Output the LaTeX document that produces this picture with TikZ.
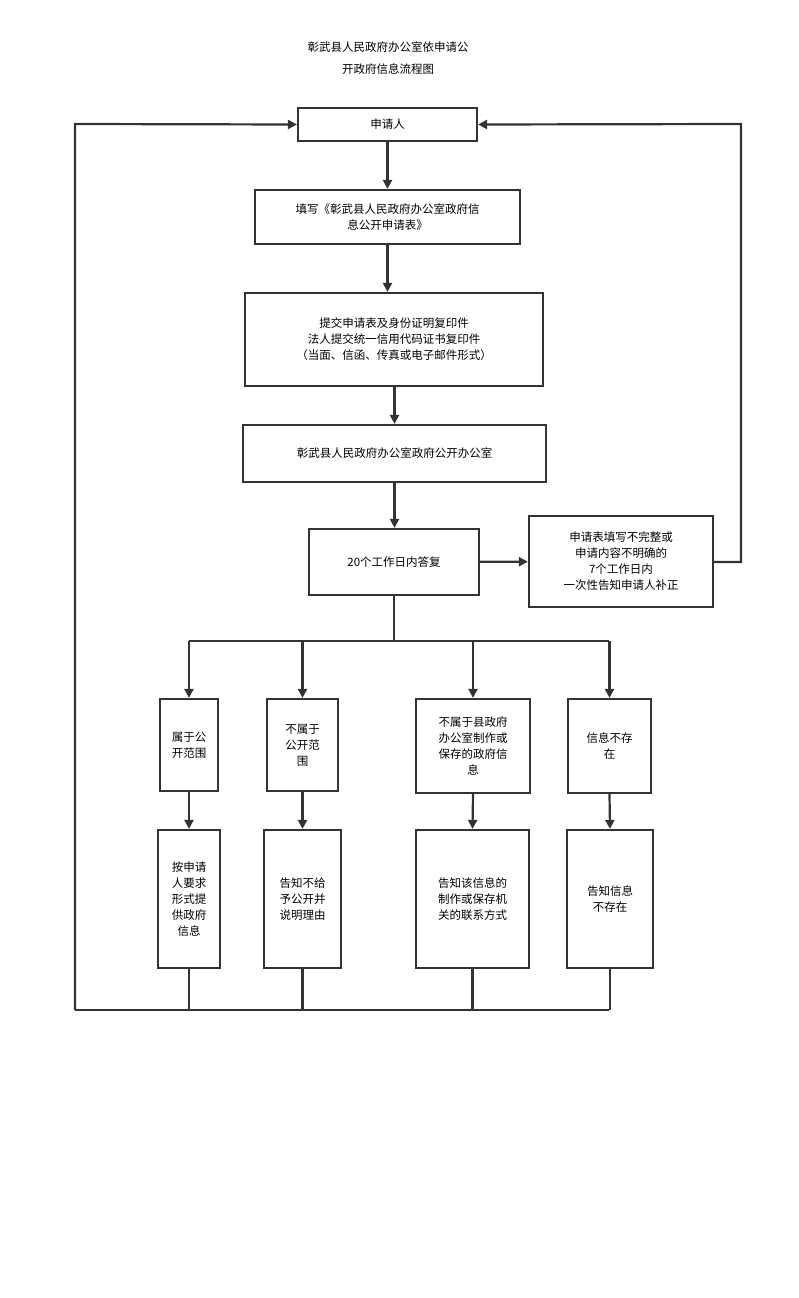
\documentclass[tikz,border=0pt]{standalone}
\usepackage{fontspec}
\setmainfont{Noto Sans CJK SC}
\usetikzlibrary{arrows.meta}
\definecolor{ln}{HTML}{333333}
\begin{document}
\begin{tikzpicture}[x=1pt,y=-1pt,
 bx/.style={draw=ln,line width=2.2pt,fill=white,align=center,inner sep=0pt,font=\fontsize{11.5}{16}\selectfont},
 ar/.style={draw=ln,line width=2.2pt,-{Triangle[length=9pt,width=9pt]}},
 ln/.style={draw=ln,line width=2.2pt}]
\useasboundingbox (0,0) rectangle (798,1298);
\node[align=center,font=\fontsize{11.5}{22}\selectfont] (t) at (388,58) {彰武县人民政府办公室依申请公\\开政府信息流程图};
\newcommand{\bxat}[6]{\node[bx,minimum width=#4-#2,minimum height=#5-#3] (#1) at ({(#2+#4)/2},{(#3+#5)/2}) {#6};}
\bxat{a}{298}{108}{477}{141}{申请人}
\bxat{b}{255}{190}{520}{244}{填写《彰武县人民政府办公室政府信\\息公开申请表》}
\bxat{c}{245}{293}{543}{386}{提交申请表及身份证明复印件\\法人提交统一信用代码证书复印件\\（当面、信函、传真或电子邮件形式）}
\bxat{d}{243}{425}{546}{482}{彰武县人民政府办公室政府公开办公室}
\bxat{e}{309}{529}{479}{595}{20个工作日内答复}
\bxat{f}{529}{516}{713}{607}{申请表填写不完整或\\申请内容不明确的\\7个工作日内\\一次性告知申请人补正}
\bxat{g1}{160}{699}{218}{791}{属于公\\开范围}
\bxat{g2}{267}{699}{338}{791}{不属于\\公开范\\围}
\bxat{g3}{416}{699}{530}{793}{不属于县政府\\办公室制作或\\保存的政府信\\息}
\bxat{g4}{568}{699}{651}{793}{信息不存\\在}
\bxat{h1}{158}{830}{220}{968}{按申请\\人要求\\形式提\\供政府\\信息}
\bxat{h2}{264}{830}{341}{968}{告知不给\\予公开并\\说明理由}
\bxat{h3}{416}{830}{529}{968}{告知该信息的\\制作或保存机\\关的联系方式}
\bxat{h4}{567}{830}{653}{968}{告知信息\\不存在}
\path[ar] (a) -- (b);
\path[ar] (b.south) -- (b.south|-c.north);
\path[ar] (c.south-|d.north) -- (d.north);
\path[ar] (d.south) -- (d.south|-e.north);
\path[ar] (e) -- (f);
\coordinate (br) at (394,641);
\path[ln] (e.south-|br) -- (br);
\path[ln] (189,641) -- (609,641);
\foreach \g in {g1,g2,g3,g4}{\path[ar] (br-|\g.north) -- (\g.north);}
\foreach \i in {1,2,3,4}{\path[ar] (g\i.south) -- (h\i.north);}
\coordinate (bl) at (75,1010);
\coordinate (tl) at (75,124);
\coordinate (tr) at (741,124);
\coordinate (fr) at (741,562);
\foreach \i in {1,2,3,4}{\path[ln] (h\i.south) -- (h\i.south|-bl);}
\path[ln] (bl) -- (609,1010);
\path[ar] (bl) -- (tl) -- (a.west);
\path[ar] (f.east|-fr) -- (fr) -- (tr) -- (a.east);
\end{tikzpicture}
\end{document}
